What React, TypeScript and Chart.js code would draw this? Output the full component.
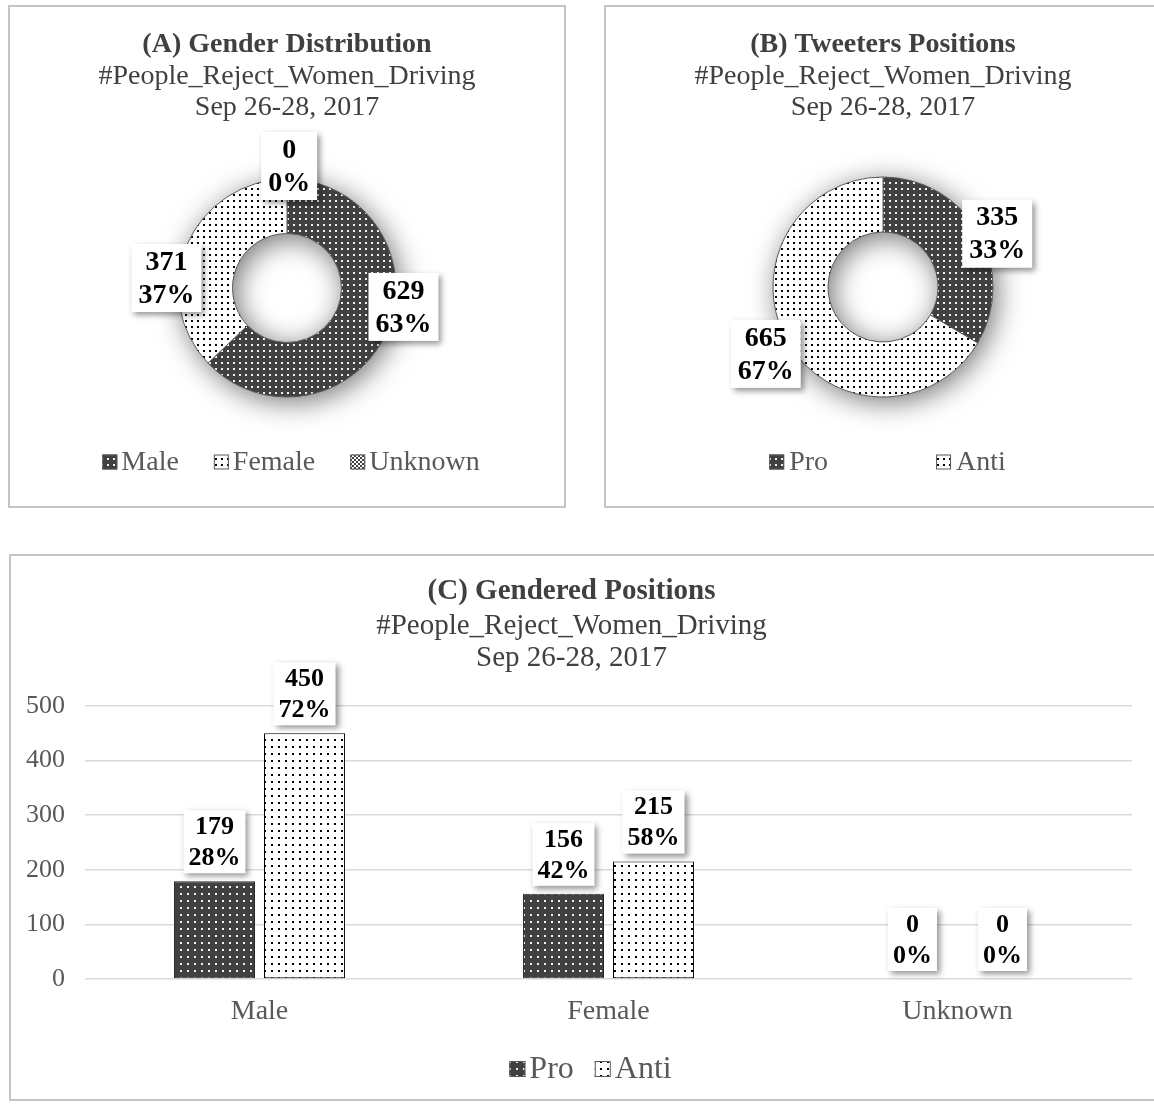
import React, { useEffect, useRef } from 'react';
import { Chart, registerables } from 'chart.js';

Chart.register(...registerables);

// ---------------- DATA ----------------
const genderLabels = ['Male', 'Female', 'Unknown'];
const genderCounts = [629, 371, 0];
const genderPct = ['63%', '37%', '0%'];

const positionLabels = ['Pro', 'Anti'];
const positionCounts = [335, 665];
const positionPct = ['33%', '67%'];

const categories = ['Male', 'Female', 'Unknown'];
const proCounts = [179, 156, 0];
const antiCounts = [450, 215, 0];
const proPct = ['28%', '42%', '0%'];
const antiPct = ['72%', '58%', '0%'];

const yMax = 500;
const yStep = 100;

const subtitleLines = ['#People_Reject_Women_Driving', 'Sep 26-28, 2017'];

// ---------------- STYLE ----------------
const FF = "'Liberation Serif', 'Times New Roman', Times, serif";
Chart.defaults.font.family = FF;

const TITLE_COLOR = '#404040';
const TEXT_COLOR = '#595959';

function dotPattern(bg: string, dot: string, size: number, dotSize: number) {
  const c = document.createElement('canvas');
  c.width = size;
  c.height = size;
  const g = c.getContext('2d')!;
  g.fillStyle = bg;
  g.fillRect(0, 0, size, size);
  g.fillStyle = dot;
  g.fillRect(1, 1, dotSize, dotSize);
  return g.createPattern(c, 'repeat')!;
}

function checkPattern(a: string, b: string, cell: number) {
  const c = document.createElement('canvas');
  c.width = cell * 2;
  c.height = cell * 2;
  const g = c.getContext('2d')!;
  g.fillStyle = b;
  g.fillRect(0, 0, cell * 2, cell * 2);
  g.fillStyle = a;
  g.fillRect(0, 0, cell, cell);
  g.fillRect(cell, cell, cell, cell);
  return g.createPattern(c, 'repeat')!;
}

function drawLabelBox(
  ctx: CanvasRenderingContext2D,
  cx: number,
  cy: number,
  lines: string[],
  font: string,
  lineH: number,
  padX: number,
  padY: number,
  anchor: 'center' | 'bottom'
) {
  ctx.save();
  ctx.font = font;
  const w = Math.max(...lines.map((l) => ctx.measureText(l).width)) + padX * 2;
  const h = lines.length * lineH + padY * 2;
  const top = anchor === 'center' ? cy - h / 2 : cy - h;
  ctx.shadowColor = 'rgba(0,0,0,0.42)';
  ctx.shadowBlur = 6;
  ctx.shadowOffsetX = 3;
  ctx.shadowOffsetY = 3;
  ctx.fillStyle = '#ffffff';
  ctx.fillRect(cx - w / 2, top, w, h);
  ctx.shadowColor = 'transparent';
  ctx.shadowBlur = 0;
  ctx.shadowOffsetX = 0;
  ctx.shadowOffsetY = 0;
  ctx.fillStyle = '#000000';
  ctx.textAlign = 'center';
  ctx.textBaseline = 'middle';
  lines.forEach((l, i) => ctx.fillText(l, cx, top + padY + lineH * (i + 0.5) + 1));
  ctx.restore();
}

type LegendItem = { text: string; fill: CanvasPattern | string };

function legendPlugin(
  items: LegendItem[],
  cfg: { y: number; size: number; box: number; gapText: number; gapItem: number; shiftX: number }
) {
  return {
    id: 'customLegend',
    afterDraw(chart: any) {
      const ctx: CanvasRenderingContext2D = chart.ctx;
      ctx.save();
      ctx.font = `${cfg.size}px ${FF}`;
      const widths = items.map((it) => cfg.box + cfg.gapText + ctx.measureText(it.text).width);
      const total = widths.reduce((a, b) => a + b, 0) + cfg.gapItem * (items.length - 1);
      let x = chart.width / 2 - total / 2 + cfg.shiftX;
      items.forEach((it, i) => {
        const by = cfg.y - cfg.box / 2;
        ctx.fillStyle = it.fill as any;
        ctx.fillRect(x, by, cfg.box, cfg.box);
        ctx.strokeStyle = '#595959';
        ctx.lineWidth = 1;
        ctx.strokeRect(x + 0.5, by + 0.5, cfg.box - 1, cfg.box - 1);
        ctx.fillStyle = TEXT_COLOR;
        ctx.textAlign = 'left';
        ctx.textBaseline = 'middle';
        ctx.fillText(it.text, x + cfg.box + cfg.gapText, cfg.y + 1);
        x += widths[i] + cfg.gapItem;
      });
      ctx.restore();
    },
  };
}

function ringShadowPlugin() {
  return {
    id: 'ringShadow',
    beforeDatasetsDraw(chart: any) {
      const arc = chart.getDatasetMeta(0).data[0];
      if (!arc) return;
      const p = arc.getProps(['x', 'y', 'outerRadius', 'innerRadius'], true);
      const ctx: CanvasRenderingContext2D = chart.ctx;
      ctx.save();
      ctx.shadowColor = 'rgba(0,0,0,0.55)';
      ctx.shadowBlur = 28;
      ctx.shadowOffsetX = 4;
      ctx.shadowOffsetY = 5;
      ctx.beginPath();
      ctx.arc(p.x, p.y, p.outerRadius, 0, Math.PI * 2);
      ctx.arc(p.x, p.y, p.innerRadius, 0, Math.PI * 2, true);
      ctx.fillStyle = '#ffffff';
      ctx.fill();
      ctx.restore();
    },
  };
}

function donutLabelPlugin(counts: number[], pct: string[], shiftDeg: number[], extra: number[]) {
  return {
    id: 'donutLabels',
    afterDatasetsDraw(chart: any) {
      const ctx: CanvasRenderingContext2D = chart.ctx;
      chart.getDatasetMeta(0).data.forEach((arc: any, i: number) => {
        const p = arc.getProps(['x', 'y', 'startAngle', 'endAngle', 'outerRadius'], true);
        const a = (p.startAngle + p.endAngle) / 2 + (shiftDeg[i] * Math.PI) / 180;
        const d = p.outerRadius + extra[i];
        drawLabelBox(
          ctx,
          p.x + Math.cos(a) * d,
          p.y + Math.sin(a) * d,
          [String(counts[i]), pct[i]],
          `bold 28px ${FF}`,
          33,
          7,
          1,
          'center'
        );
      });
    },
  };
}

function barLabelPlugin(values: number[][], pcts: string[][]) {
  return {
    id: 'barLabels',
    afterDatasetsDraw(chart: any) {
      const ctx: CanvasRenderingContext2D = chart.ctx;
      values.forEach((vals, di) => {
        const meta = chart.getDatasetMeta(di);
        meta.data.forEach((bar: any, j: number) => {
          const p = bar.getProps(['x', 'y'], true);
          drawLabelBox(ctx, p.x, p.y - 8, [String(vals[j]), pcts[di][j]], `bold 26px ${FF}`, 31, 5, 0.5, 'bottom');
        });
      });
    },
  };
}

function titleOpts(text: string, size: number, padTop: number, subLineH: number, subPadTop: number, subPadBottom: number) {
  return {
    title: {
      display: true,
      text,
      color: TITLE_COLOR,
      font: { family: FF, size, weight: 'bold' as const, lineHeight: 1.2 },
      padding: { top: padTop, bottom: 0 },
    },
    subtitle: {
      display: true,
      text: subtitleLines,
      color: TITLE_COLOR,
      font: { family: FF, size, weight: 'normal' as const, lineHeight: subLineH / size },
      padding: { top: subPadTop, bottom: subPadBottom },
    },
  };
}

// ---------------- CHARTS ----------------
function buildGender(): any {
  const dark = dotPattern('#404040', '#f2f2f2', 6, 2);
  const light = dotPattern('#ffffff', '#000000', 6, 2);
  const check = checkPattern('#404040', '#ffffff', 2);
  const fills = [dark, light, check];
  return {
    type: 'doughnut',
    data: {
      labels: genderLabels,
      datasets: [
        {
          data: genderCounts,
          backgroundColor: fills,
          borderColor: '#595959',
          borderWidth: 1,
          radius: 109,
          cutout: '50%',
        },
      ],
    },
    options: {
      responsive: false,
      animation: false,
      events: [],
      layout: { padding: { top: 0, bottom: 53.6, left: 0, right: 0 } },
      plugins: {
        legend: { display: false },
        tooltip: { enabled: false },
        ...titleOpts('(A) Gender Distribution', 28, 21, 31, 0, 0),
      },
    },
    plugins: [
      ringShadowPlugin(),
      donutLabelPlugin(genderCounts, genderPct, [-14, -18.5, 1], [9, 12, 13]),
      legendPlugin(
        genderLabels.map((t, i) => ({ text: t, fill: fills[i] })),
        { y: 455, size: 28, box: 15, gapText: 4, gapItem: 35, shiftX: 4 }
      ),
    ],
  };
}

function buildPosition(): any {
  const dark = dotPattern('#404040', '#f2f2f2', 6, 2);
  const light = dotPattern('#ffffff', '#000000', 6, 2);
  const fills = [dark, light];
  return {
    type: 'doughnut',
    data: {
      labels: positionLabels,
      datasets: [
        {
          data: positionCounts,
          backgroundColor: fills,
          borderColor: '#595959',
          borderWidth: 1,
          radius: 110,
          cutout: '50%',
        },
      ],
    },
    options: {
      responsive: false,
      animation: false,
      events: [],
      layout: { padding: { top: 0, bottom: 55.6, left: 0, right: 0 } },
      plugins: {
        legend: { display: false },
        tooltip: { enabled: false },
        ...titleOpts('(B) Tweeters Positions', 28, 21, 31, 0, 0),
      },
    },
    plugins: [
      ringShadowPlugin(),
      donutLabelPlugin(positionCounts, positionPct, [4.7, 0], [16, 25]),
      legendPlugin(
        positionLabels.map((t, i) => ({ text: t, fill: fills[i] })),
        { y: 455, size: 28, box: 15, gapText: 5, gapItem: 108, shiftX: 4.5 }
      ),
    ],
  };
}

function buildGendered(): any {
  const dark = dotPattern('#404040', '#f2f2f2', 7, 2);
  const light = dotPattern('#ffffff', '#000000', 7, 2);
  const fills = [dark, light];
  return {
    type: 'bar',
    data: {
      labels: categories,
      datasets: [
        {
          label: 'Pro',
          data: proCounts,
          backgroundColor: dark,
          borderColor: '#262626',
          borderWidth: 1,
          borderSkipped: false,
          categoryPercentage: 0.516,
          barPercentage: 0.9,
        },
        {
          label: 'Anti',
          data: antiCounts,
          backgroundColor: light,
          borderColor: '#000000',
          borderWidth: 1,
          borderSkipped: false,
          categoryPercentage: 0.516,
          barPercentage: 0.9,
        },
      ],
    },
    options: {
      responsive: false,
      animation: false,
      events: [],
      layout: { padding: { top: 0, bottom: 60, left: 0, right: 27 } },
      scales: {
        x: {
          grid: { display: false, drawTicks: false },
          border: { display: false },
          ticks: { color: TEXT_COLOR, font: { family: FF, size: 28 }, padding: 16 },
          afterFit: (s: any) => {
            s.height = 60;
          },
        },
        y: {
          min: 0,
          max: yMax,
          ticks: { stepSize: yStep, color: TEXT_COLOR, font: { family: FF, size: 26 }, padding: 20 },
          grid: { color: '#d9d9d9', lineWidth: 1.5, drawTicks: false },
          border: { display: false },
          afterFit: (s: any) => {
            s.width = 74;
          },
        },
      },
      plugins: {
        legend: { display: false },
        tooltip: { enabled: false },
        ...titleOpts('(C) Gendered Positions', 29, 18.6, 32, 0.6, 32),
      },
    },
    plugins: [
      barLabelPlugin([proCounts, antiCounts], [proPct, antiPct]),
      legendPlugin(
        positionLabels.map((t, i) => ({ text: t, fill: fills[i] })),
        { y: 513, size: 32, box: 16, gapText: 4, gapItem: 21, shiftX: 5.5 }
      ),
    ],
  };
}

// ---------------- COMPONENTS ----------------
function ChartCanvas({ width, height, build }: { width: number; height: number; build: () => any }) {
  const ref = useRef<HTMLCanvasElement>(null);
  useEffect(() => {
    if (!ref.current) return;
    const chart = new Chart(ref.current, build());
    return () => chart.destroy();
  }, []);
  return <canvas ref={ref} width={width} height={height} style={{ display: 'block', width, height }} />;
}

function Panel({
  left,
  top,
  width,
  height,
  build,
}: {
  left: number;
  top: number;
  width: number;
  height: number;
  build: () => any;
}) {
  const b = 2;
  return (
    <div
      style={{
        position: 'absolute',
        left,
        top,
        width,
        height,
        boxSizing: 'border-box',
        border: `${b}px solid #c4c4c4`,
        background: '#ffffff',
      }}
    >
      <ChartCanvas width={width - 2 * b} height={height - 2 * b} build={build} />
    </div>
  );
}

export default function App() {
  return (
    <div
      style={{
        position: 'absolute',
        left: 0,
        top: 0,
        width: 1154,
        height: 1106,
        overflow: 'hidden',
        background: '#ffffff',
      }}
    >
      <Panel left={8} top={5} width={558} height={503} build={buildGender} />
      <Panel left={604} top={5} width={558} height={503} build={buildPosition} />
      <Panel left={9} top={554} width={1152} height={547} build={buildGendered} />
    </div>
  );
}
